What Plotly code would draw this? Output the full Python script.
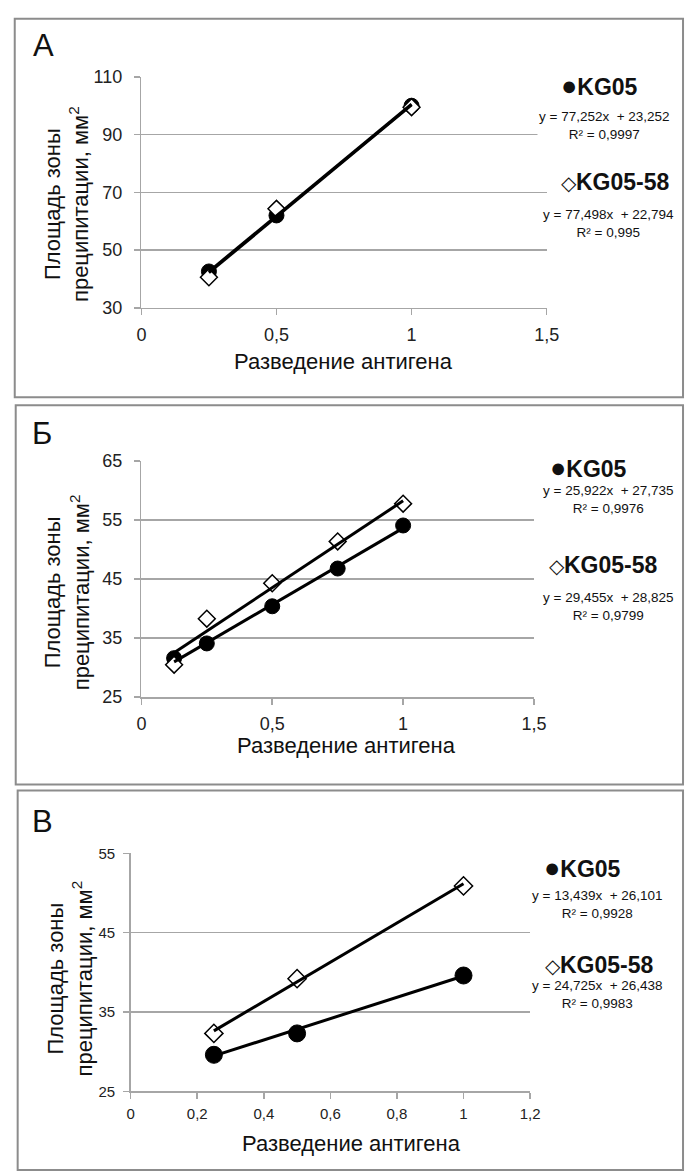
import plotly.graph_objects as go

# ---------------- data ----------------
# Panel A
a_x = [0.25, 0.5, 1.0]
a_kg05 = [42.6, 62.0, 100.0]
a_kg0558 = [40.6, 64.3, 99.5]
a_fit_kg05 = (77.252, 23.252)
a_fit_kg0558 = (77.498, 22.794)
a_eq_kg05 = "y = 77,252x  + 23,252<br>R² = 0,9997"
a_eq_kg0558 = "y = 77,498x  + 22,794<br>R² = 0,995"

# Panel B
b_x = [0.125, 0.25, 0.5, 0.75, 1.0]
b_kg05 = [31.6, 34.1, 40.4, 46.8, 54.1]
b_kg0558 = [30.5, 38.3, 44.3, 51.4, 57.8]
b_fit_kg05 = (25.922, 27.735)
b_fit_kg0558 = (29.455, 28.825)
b_eq_kg05 = "y = 25,922x  + 27,735<br>R² = 0,9976"
b_eq_kg0558 = "y = 29,455x  + 28,825<br>R² = 0,9799"

# Panel C (В)
c_x = [0.25, 0.5, 1.0]
c_kg05 = [29.6, 32.3, 39.6]
c_kg0558 = [32.3, 39.2, 50.9]
c_fit_kg05 = (13.439, 26.101)
c_fit_kg0558 = (24.725, 26.438)
c_eq_kg05 = "y = 13,439x  + 26,101<br>R² = 0,9928"
c_eq_kg0558 = "y = 24,725x  + 26,438<br>R² = 0,9983"

panel_letters = ["А", "Б", "В"]
series_names = ["KG05", "KG05-58"]
x_title = "Разведение антигена"
y_title = "Площадь зоны<br>преципитации, мм<sup>2</sup>"

# ---------------- layout helpers ----------------
W, H = 697, 1175
FONT = "Liberation Sans"
GRID = "#a6a6a6"

def px(x):
    return x / W

def py(y):
    return 1 - y / H

fig = go.Figure()

panels = [
    dict(x=a_x, s1=a_kg05, s2=a_kg0558, f1=a_fit_kg05, f2=a_fit_kg0558,
         e1=a_eq_kg05, e2=a_eq_kg0558,
         xdom=[px(140), px(556)], ydom=[py(303), py(68)],
         xr=[0, 1.5], xd=0.5, yr=[30, 110], yd=20, tick=18, ms1=15, ms2=13,
         xstand=4, ystand=8),
    dict(x=b_x, s1=b_kg05, s2=b_kg0558, f1=b_fit_kg05, f2=b_fit_kg0558,
         e1=b_eq_kg05, e2=b_eq_kg0558,
         xdom=[px(140), px(543)], ydom=[py(699), py(459)],
         xr=[0, 1.5], xd=0.5, yr=[25, 65], yd=10, tick=18, ms1=15, ms2=13,
         xstand=4, ystand=8),
    dict(x=c_x, s1=c_kg05, s2=c_kg0558, f1=c_fit_kg05, f2=c_fit_kg0558,
         e1=c_eq_kg05, e2=c_eq_kg0558,
         xdom=[px(129), px(539)], ydom=[py(1100), py(858)],
         xr=[0, 1.2], xd=0.2, yr=[25, 55], yd=10, tick=15, ms1=17, ms2=14,
         xstand=2, ystand=5),
]

for i, p in enumerate(panels):
    n = "" if i == 0 else str(i + 1)
    xa, ya = "x" + n, "y" + n
    fig.add_trace(go.Scatter(x=p["x"], y=p["s1"], mode="markers", xaxis=xa, yaxis=ya,
                             name=series_names[0], showlegend=False,
                             marker=dict(symbol="circle", size=p["ms1"], color="black",
                                         line=dict(color="black", width=1))))
    fig.add_trace(go.Scatter(x=p["x"], y=p["s2"], mode="markers", xaxis=xa, yaxis=ya,
                             name=series_names[1], showlegend=False,
                             marker=dict(symbol="diamond", size=p["ms2"], color="white",
                                         line=dict(color="black", width=1.5))))
    xs = [min(p["x"]), max(p["x"])]
    for f in (p["f1"], p["f2"]):
        fig.add_trace(go.Scatter(x=xs, y=[f[0] * v + f[1] for v in xs], mode="lines",
                                 xaxis=xa, yaxis=ya, showlegend=False, hoverinfo="skip",
                                 line=dict(color="black", width=3)))
    fig.update_layout(**{
        "xaxis" + n: dict(domain=p["xdom"], range=p["xr"], dtick=p["xd"], tick0=0,
                          anchor=ya, showgrid=False, zeroline=False, showline=True,
                          linecolor=GRID, linewidth=1.5, ticks="outside", ticklen=6,
                          tickcolor=GRID, tickwidth=1.5, ticklabelstandoff=p["xstand"],
                          tickfont=dict(family=FONT, size=p["tick"], color="#222")),
        "yaxis" + n: dict(domain=p["ydom"], range=p["yr"], dtick=p["yd"], tick0=p["yr"][0],
                          anchor=xa, showgrid=True, gridcolor=GRID, gridwidth=1.5,
                          zeroline=False, showline=True, linecolor=GRID, linewidth=1.5,
                          ticks="outside", ticklen=6, tickcolor=GRID, tickwidth=1.5,
                          ticklabelstandoff=p["ystand"],
                          tickfont=dict(family=FONT, size=p["tick"], color="#222")),
    })

# ---------------- panel boxes ----------------
for (y0, y1, x0) in [(9, 394, 10), (402, 788, 11), (794, 1180, 13)]:
    fig.add_shape(type="rect", xref="paper", yref="paper",
                  x0=px(x0), x1=px(696), y0=py(y1), y1=py(y0),
                  line=dict(color="#8c8c8c", width=2), fillcolor="rgba(0,0,0,0)",
                  layer="below")

# ---------------- annotations ----------------
ann = []

def text(x, y, t, size, bg=None, angle=0, align="center", color="#111"):
    d = dict(x=px(x), y=py(y), xref="paper", yref="paper", text=t, showarrow=False,
             xanchor="center", yanchor="middle", align=align, textangle=angle,
             font=dict(family=FONT, size=size, color=color))
    if bg:
        d["bgcolor"] = bg
    ann.append(d)

text(40, 36, panel_letters[0], 31)
text(38, 431, panel_letters[1], 31)
text(39, 826, panel_letters[2], 31)

text(347, 358, x_title, 22)
text(351, 748, x_title, 22)
text(356, 1153, x_title, 22)
text(63, 197, y_title, 22, angle=-90)
text(64, 592, y_title, 22, angle=-90)
text(67, 985, y_title, 22, angle=-90)

legend_pos = [
    dict(l1=(610, 77), e1=(615, 118), l2=(627, 175), e2=(619, 217)),
    dict(l1=(599, 466), e1=(619, 498), l2=(614, 565), e2=(619, 607)),
    dict(l1=(593, 873), e1=(608, 910), l2=(610, 972), e2=(608, 1002)),
]
for i, p in enumerate(panels):
    lp = legend_pos[i]
    text(*lp["l1"], "<span style='font-size:27px'>●</span><b>" + series_names[0] + "</b>", 23)
    text(*lp["e1"], p["e1"], 13.5, bg="white")
    text(*lp["l2"], "<span style='font-size:20px'>◇</span><b>" + series_names[1] + "</b>", 23)
    text(*lp["e2"], p["e2"], 13.5, bg="white")

fig.update_layout(
    width=W, height=H,
    margin=dict(l=0, r=0, t=0, b=0),
    paper_bgcolor="white", plot_bgcolor="white",
    separators=", ",
    annotations=ann,
    showlegend=False,
    font=dict(family=FONT, color="#111"),
)

fig.write_html("out.html",
               config={"displayModeBar": False, "staticPlot": True},
               post_script="document.body.style.margin='0';document.body.style.overflow='hidden';")
